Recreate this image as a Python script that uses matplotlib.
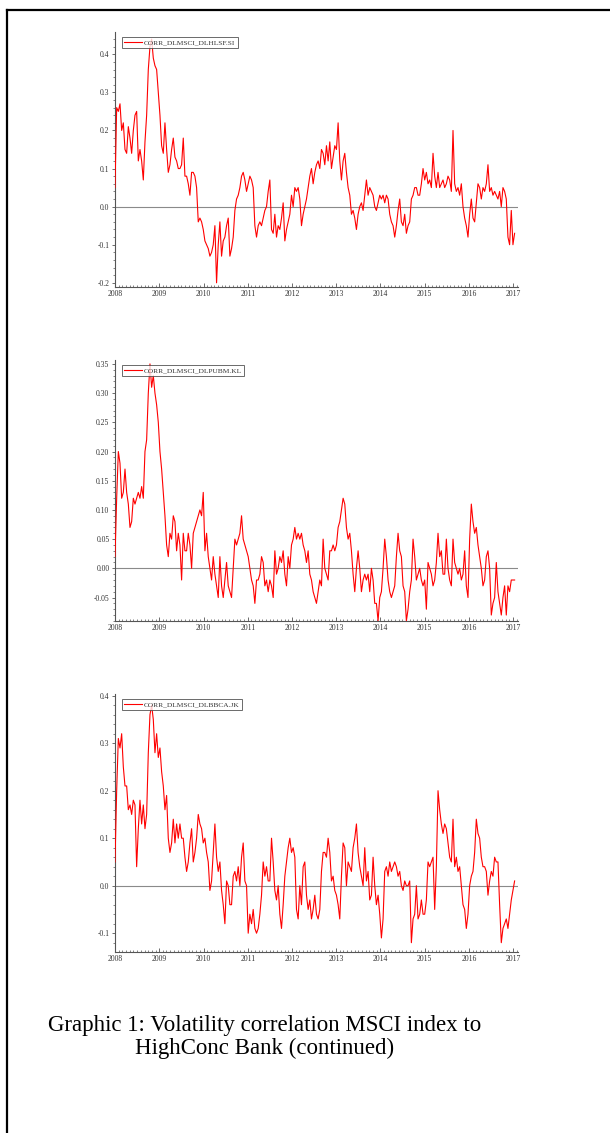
import numpy as np
import pandas as pd
import matplotlib
matplotlib.use("Agg")
import matplotlib.pyplot as plt
import matplotlib.dates as mdates
import matplotlib.ticker as mticker
from matplotlib.lines import Line2D

# ── data (roughly biweekly from Jan 2008) ──
START, END = "2008-01-01", "2017-01-13"

hlsf_label = "CORR_DLMSCI_DLHLSF.SI"
hlsf = [
    0.05, 0.26, 0.25, 0.27, 0.20, 0.22, 0.15, 0.14, 0.21, 0.18,
    0.14, 0.20, 0.24, 0.25, 0.12, 0.15, 0.12, 0.07, 0.17, 0.24,
    0.36, 0.42, 0.44, 0.39, 0.37, 0.36, 0.30, 0.24, 0.16, 0.14,
    0.22, 0.15, 0.09, 0.11, 0.15, 0.18, 0.13, 0.12, 0.10, 0.10,
    0.11, 0.18, 0.08, 0.08, 0.06, 0.03, 0.09, 0.09, 0.08, 0.05,
    -0.04, -0.03, -0.04, -0.06, -0.09, -0.10, -0.11, -0.13, -0.12, -0.10,
    -0.05, -0.20, -0.10, -0.04, -0.13, -0.09, -0.08, -0.05, -0.03, -0.13,
    -0.11, -0.08, -0.01, 0.02, 0.03, 0.05, 0.08, 0.09, 0.07, 0.04,
    0.06, 0.08, 0.07, 0.05, -0.05, -0.08, -0.05, -0.04, -0.05, -0.03,
    -0.01, 0.00, 0.04, 0.07, -0.06, -0.07, -0.02, -0.08, -0.05, -0.06,
    -0.03, 0.01, -0.09, -0.06, -0.04, -0.02, 0.03, 0.00, 0.05, 0.04,
    0.05, 0.02, -0.05, -0.02, 0.00, 0.02, 0.05, 0.08, 0.10, 0.06,
    0.09, 0.11, 0.12, 0.10, 0.15, 0.14, 0.11, 0.16, 0.12, 0.17,
    0.10, 0.13, 0.16, 0.15, 0.22, 0.12, 0.07, 0.12, 0.14, 0.09,
    0.05, 0.03, -0.02, -0.01, -0.03, -0.06, -0.02, 0.00, 0.01, -0.01,
    0.03, 0.07, 0.03, 0.05, 0.04, 0.03, 0.00, -0.01, 0.01, 0.03,
    0.02, 0.03, 0.01, 0.03, 0.02, -0.02, -0.04, -0.05, -0.08, -0.05,
    -0.01, 0.02, -0.04, -0.05, -0.02, -0.07, -0.05, -0.04, 0.02, 0.03,
    0.05, 0.05, 0.03, 0.03, 0.06, 0.10, 0.07, 0.09, 0.06, 0.07,
    0.05, 0.14, 0.08, 0.05, 0.09, 0.05, 0.06, 0.07, 0.05, 0.06,
    0.08, 0.07, 0.04, 0.20, 0.06, 0.04, 0.05, 0.03, 0.06, 0.00,
    -0.03, -0.05, -0.08, -0.02, 0.02, -0.03, -0.04, 0.01, 0.06, 0.05,
    0.02, 0.05, 0.04, 0.06, 0.11, 0.04, 0.05, 0.03, 0.04, 0.03,
    0.02, 0.04, 0.00, 0.05, 0.04, 0.02, -0.08, -0.10, -0.01, -0.10,
    -0.07,
]

pubm_label = "CORR_DLMSCI_DLPUBM.KL"
pubm = [
    0.02, 0.12, 0.20, 0.18, 0.12, 0.13, 0.17, 0.13, 0.11, 0.07,
    0.08, 0.12, 0.11, 0.12, 0.13, 0.12, 0.14, 0.12, 0.20, 0.22,
    0.30, 0.35, 0.31, 0.33, 0.30, 0.28, 0.25, 0.20, 0.17, 0.13,
    0.09, 0.04, 0.02, 0.06, 0.05, 0.09, 0.08, 0.03, 0.06, 0.04,
    -0.02, 0.06, 0.03, 0.03, 0.06, 0.04, 0.00, 0.06, 0.07, 0.08,
    0.09, 0.10, 0.09, 0.13, 0.03, 0.06, 0.02, 0.00, -0.02, 0.02,
    -0.01, -0.03, -0.05, 0.02, -0.03, -0.05, -0.02, 0.01, -0.03, -0.04,
    -0.05, 0.00, 0.05, 0.04, 0.05, 0.06, 0.09, 0.05, 0.04, 0.03,
    0.02, 0.00, -0.02, -0.03, -0.06, -0.02, -0.02, -0.01, 0.02, 0.01,
    -0.03, -0.02, -0.04, -0.02, -0.03, -0.05, 0.03, -0.01, 0.00, 0.02,
    0.01, 0.03, -0.01, -0.03, 0.02, 0.00, 0.04, 0.05, 0.07, 0.05,
    0.06, 0.05, 0.06, 0.04, 0.03, 0.01, 0.03, -0.01, -0.02, -0.04,
    -0.05, -0.06, -0.04, -0.02, -0.03, 0.05, 0.00, -0.01, -0.02, 0.03,
    0.03, 0.04, 0.03, 0.04, 0.07, 0.08, 0.10, 0.12, 0.11, 0.07,
    0.05, 0.06, 0.03, -0.01, -0.04, 0.00, 0.03, 0.00, -0.04, -0.02,
    -0.01, -0.02, -0.01, -0.04, 0.00, -0.02, -0.06, -0.06, -0.09, -0.05,
    -0.04, 0.00, 0.05, 0.02, -0.02, -0.04, -0.05, -0.04, -0.03, 0.02,
    0.06, 0.03, 0.02, -0.03, -0.04, -0.09, -0.07, -0.04, -0.02, 0.05,
    0.02, -0.02, -0.01, 0.00, -0.02, -0.03, -0.02, -0.07, 0.01, 0.00,
    -0.01, -0.03, -0.02, 0.01, 0.06, 0.02, 0.03, -0.01, -0.01, 0.05,
    0.00, -0.02, -0.03, 0.05, 0.01, 0.00, -0.01, 0.00, -0.02, -0.01,
    0.03, -0.03, -0.05, 0.05, 0.11, 0.08, 0.06, 0.07, 0.04, 0.02,
    0.00, -0.03, -0.02, 0.02, 0.03, 0.00, -0.08, -0.06, -0.05, 0.01,
    -0.04, -0.06, -0.08, -0.05, -0.03, -0.08, -0.03, -0.04, -0.02, -0.02,
    -0.02,
]

bbca_label = "CORR_DLMSCI_DLBBCA.JK"
bbca = [
    0.05, 0.20, 0.31, 0.29, 0.32, 0.25, 0.21, 0.21, 0.16, 0.17,
    0.15, 0.18, 0.17, 0.04, 0.12, 0.18, 0.13, 0.17, 0.12, 0.15,
    0.28, 0.36, 0.38, 0.35, 0.28, 0.32, 0.27, 0.29, 0.24, 0.21,
    0.16, 0.19, 0.10, 0.07, 0.09, 0.14, 0.09, 0.13, 0.10, 0.13,
    0.10, 0.10, 0.06, 0.03, 0.05, 0.09, 0.12, 0.05, 0.07, 0.10,
    0.15, 0.13, 0.12, 0.09, 0.10, 0.07, 0.05, -0.01, 0.01, 0.07,
    0.13, 0.06, 0.03, 0.05, -0.01, -0.04, -0.08, 0.01, 0.00, -0.04,
    -0.04, 0.02, 0.03, 0.01, 0.04, 0.00, 0.06, 0.09, 0.01, 0.00,
    -0.10, -0.06, -0.08, -0.05, -0.09, -0.10, -0.09, -0.06, -0.02, 0.05,
    0.02, 0.04, 0.01, 0.01, 0.10, 0.05, -0.01, -0.03, 0.00, -0.06,
    -0.09, -0.04, 0.02, 0.05, 0.08, 0.10, 0.07, 0.08, 0.06, -0.05,
    -0.07, 0.00, -0.04, 0.04, 0.05, -0.02, -0.05, -0.03, -0.07, -0.05,
    -0.02, -0.06, -0.07, -0.05, 0.03, 0.07, 0.07, 0.06, 0.10, 0.07,
    0.01, 0.02, -0.01, -0.02, -0.04, -0.07, 0.02, 0.09, 0.08, 0.00,
    0.05, 0.04, 0.03, 0.08, 0.10, 0.13, 0.07, 0.04, 0.02, 0.00,
    0.08, 0.01, 0.03, -0.03, -0.02, 0.06, 0.00, -0.04, -0.02, -0.06,
    -0.11, -0.07, 0.03, 0.04, 0.02, 0.05, 0.03, 0.04, 0.05, 0.04,
    0.02, 0.03, 0.00, -0.01, 0.01, 0.00, 0.00, 0.01, -0.12, -0.07,
    -0.06, 0.00, -0.07, -0.06, -0.03, -0.06, -0.06, -0.03, 0.05, 0.04,
    0.05, 0.06, -0.05, 0.04, 0.20, 0.16, 0.13, 0.11, 0.13, 0.12,
    0.09, 0.06, 0.05, 0.14, 0.04, 0.06, 0.03, 0.04, 0.00, -0.04,
    -0.05, -0.09, -0.06, 0.00, 0.02, 0.03, 0.07, 0.14, 0.11, 0.10,
    0.06, 0.04, 0.04, 0.03, -0.02, 0.01, 0.03, 0.02, 0.06, 0.05,
    0.05, -0.04, -0.12, -0.09, -0.08, -0.07, -0.09, -0.06, -0.03, -0.01,
    0.01,
]

caption = "Graphic 1: Volatility correlation MSCI index to\nHighConc Bank (continued)"

# ── layout ─────────────────────────────────────
W, H = 610, 1133
fig = plt.figure(figsize=(W / 100, H / 100), dpi=100, facecolor="white")

TICK_FONT = dict(family="Liberation Serif", size=5.5)
TXT = "#333333"

panels = [
    # (values, label, [l, t, w, h] in px from top-left, ylim, major step, fmt)
    (hlsf, hlsf_label, (115, 32, 403, 255), (-0.211, 0.4585), 0.1, "%.1f"),
    (pubm, pubm_label, (115, 360, 403, 261), (-0.0902, 0.3567), 0.05, "%.2f"),
    (bbca, bbca_label, (115, 694, 403, 258), (-0.1396, 0.4036), 0.1, "%.1f"),
]

for vals, label, (px, py, pw, ph), ylim, major, fmt in panels:
    ax = fig.add_axes([px / W, 1 - (py + ph) / H, pw / W, ph / H])
    dates = pd.date_range(START, END, periods=len(vals))
    ax.axhline(0, color="#8a8a8a", linewidth=0.8, zorder=1)
    ax.plot(dates, vals, color="#ff0000", linewidth=0.8, label=label, zorder=3)

    ax.set_xlim(pd.Timestamp("2008-01-01"), pd.Timestamp("2017-02-10"))
    ax.set_ylim(*ylim)

    for side in ("top", "right"):
        ax.spines[side].set_visible(False)
    for side in ("left", "bottom"):
        ax.spines[side].set_color("#555555")
        ax.spines[side].set_linewidth(0.8)

    ax.xaxis.set_major_locator(mdates.YearLocator())
    ax.xaxis.set_major_formatter(mdates.DateFormatter("%Y"))
    ax.xaxis.set_minor_locator(mdates.MonthLocator())
    ax.yaxis.set_major_locator(mticker.MultipleLocator(major))
    ax.yaxis.set_major_formatter(mticker.FormatStrFormatter(fmt))
    ax.yaxis.set_minor_locator(mticker.AutoMinorLocator(5))

    ax.tick_params(axis="x", which="major", direction="in", length=3, width=0.6,
                   color="#555555", pad=2)
    ax.tick_params(axis="x", which="minor", direction="in", length=1.5, width=0.5,
                   color="#555555")
    ax.tick_params(axis="y", which="major", direction="out", length=2.5, width=0.6,
                   color="#555555", pad=1.5)
    ax.tick_params(axis="y", which="minor", direction="out", length=1.2, width=0.5,
                   color="#555555")
    for t in ax.get_xticklabels() + ax.get_yticklabels():
        t.set_fontfamily(TICK_FONT["family"])
        t.set_fontsize(TICK_FONT["size"])
        t.set_color(TXT)

    leg = ax.legend(loc="upper left", bbox_to_anchor=(7 / pw, 1 - 5 / ph),
                    frameon=True, fancybox=False, handlelength=2.4,
                    handletextpad=0.3, borderpad=0.3, borderaxespad=0,
                    prop=dict(family="Liberation Serif", size=5.3))
    leg.get_frame().set_edgecolor("#444444")
    leg.get_frame().set_linewidth(0.7)
    for t in leg.get_texts():
        t.set_color(TXT)

# caption
fig.text(265 / W, 1 - 1037 / H, caption, ha="center", va="center",
         multialignment="center", family="Liberation Serif", fontsize=16.5,
         color="black", linespacing=1.12)

# page frame (left and top edges only, the rest is cut off)
fig.add_artist(Line2D([7 / W, 7 / W], [0, 1 - 10 / H], transform=fig.transFigure,
                      color="black", linewidth=1.6, solid_capstyle="projecting"))
fig.add_artist(Line2D([7 / W, 1], [1 - 10 / H, 1 - 10 / H], transform=fig.transFigure,
                      color="black", linewidth=1.6, solid_capstyle="projecting"))

fig.savefig("out.png", dpi=100, facecolor="white")
